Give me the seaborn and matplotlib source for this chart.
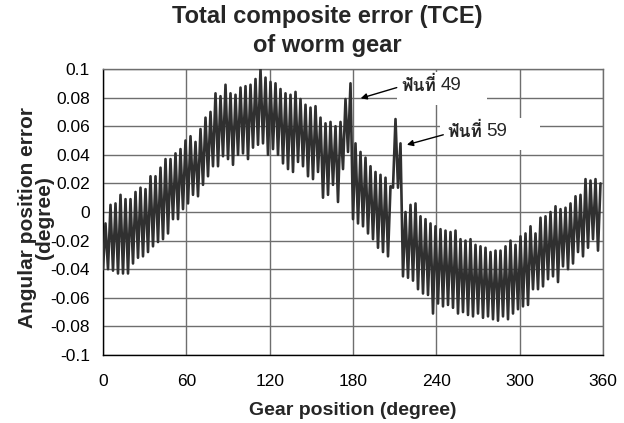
import matplotlib
matplotlib.use("Agg")
import matplotlib.pyplot as plt
from matplotlib import font_manager
from matplotlib.ft2font import FT2Font
from matplotlib.patches import Rectangle
import seaborn as sns
import pandas as pd
import numpy as np

# ---------------- data ----------------
tooth_pitch = 3.6   # degrees per tooth (100 teeth)
tooth_high = [
    -0.008, 0.005, 0.006, 0.012, 0.009, 0.009, 0.014, 0.017, 0.016, 0.025,
    0.025, 0.031, 0.037, 0.037, 0.041, 0.044, 0.050, 0.053, 0.049, 0.058,
    0.066, 0.070, 0.083, 0.081, 0.089, 0.083, 0.082, 0.087, 0.088, 0.089,
    0.093, 0.100, 0.094, 0.091, 0.090, 0.086, 0.083, 0.082, 0.084, 0.079,
    0.075, 0.073, 0.074, 0.066, 0.062, 0.063, 0.060, 0.063, 0.079, 0.090,
    0.048, 0.042, 0.038, 0.032, 0.028, 0.026, 0.024, 0.018, 0.065, 0.048,
    0.000, 0.005, 0.006, -0.003, -0.005, -0.008, -0.010, -0.012, -0.013, -0.014,
    -0.013, -0.019, -0.020, -0.019, -0.023, -0.024, -0.025, -0.028, -0.027, -0.027,
    -0.024, -0.020, -0.023, -0.017, -0.015, -0.010, -0.015, -0.004, -0.003, 0.000,
    0.004, 0.002, 0.003, 0.006, 0.011, 0.012, 0.023, 0.022, 0.023, 0.020,
]
tooth_low = [
    -0.040, -0.040, -0.041, -0.043, -0.043, -0.043, -0.036, -0.032, -0.031, -0.028,
    -0.024, -0.021, -0.019, -0.015, -0.005, -0.005, 0.002, 0.006, 0.012, 0.011,
    0.019, 0.025, 0.032, 0.032, 0.039, 0.037, 0.033, 0.040, 0.041, 0.037,
    0.045, 0.047, 0.048, 0.040, 0.044, 0.040, 0.034, 0.030, 0.028, 0.035,
    0.032, 0.025, 0.023, 0.028, 0.010, 0.012, 0.019, 0.007, 0.030, 0.042,
    -0.005, -0.008, -0.010, -0.015, -0.019, -0.025, -0.028, -0.031, 0.017, 0.017,
    -0.045, -0.046, -0.048, -0.054, -0.057, -0.058, -0.071, -0.064, -0.066, -0.065,
    -0.067, -0.071, -0.070, -0.072, -0.073, -0.071, -0.074, -0.073, -0.075, -0.076,
    -0.073, -0.075, -0.071, -0.068, -0.066, -0.065, -0.054, -0.054, -0.052, -0.047,
    -0.045, -0.049, -0.038, -0.040, -0.036, -0.028, -0.031, -0.025, -0.019, -0.027,
]
x_ticks = [0, 60, 120, 180, 240, 300, 360]
x_tick_labels = ["0", "60", "120", "180", "240", "300", "360"]
y_ticks = [-0.1, -0.08, -0.06, -0.04, -0.02, 0, 0.02, 0.04, 0.06, 0.08, 0.1]
y_tick_labels = ["-0.1", "-0.08", "-0.06", "-0.04", "-0.02", "0",
                 "0.02", "0.04", "0.06", "0.08", "0.1"]
title_text = "Total composite error (TCE)\nof worm gear"
x_label = "Gear position (degree)"
y_label = "Angular position error\n(degree)"
notes = [("ฟันที่", "49"), ("ฟันที่", "59")]

# ---------------- build long table ----------------
xs, ys = [], []
for k, (hi, lo) in enumerate(zip(tooth_high, tooth_low)):
    xs += [k * tooth_pitch, k * tooth_pitch + tooth_pitch / 2]
    ys += [lo, hi]
df = pd.DataFrame({"pos": xs, "err": ys})

# ---------------- fonts ----------------
sns.set_style("white")
plt.rcParams["font.family"] = ["Liberation Sans", "DejaVu Sans"]

thai_font = None
thai_bold = None
for fe in font_manager.fontManager.ttflist:
    try:
        cm = FT2Font(fe.fname).get_charmap()
    except Exception:
        continue
    if 0x0E1F in cm:
        if fe.weight in ("bold", 700) or (isinstance(fe.weight, int) and fe.weight >= 600):
            thai_bold = thai_bold or fe.name
        else:
            thai_font = thai_font or fe.name
thai_family = thai_bold or thai_font or "DejaVu Sans"

# ---------------- figure ----------------
fig = plt.figure(figsize=(6.24, 4.23), dpi=100)
ax = fig.add_axes([103 / 624, 1 - 355 / 423, 500 / 624, 286 / 423])

sns.lineplot(data=df, x="pos", y="err", sort=False, estimator=None,
             color="#303030", linewidth=1.9, ax=ax, zorder=3)

ax.set_xlim(0, 360)
ax.set_ylim(-0.1, 0.1)
ax.set_xticks(x_ticks)
ax.set_xticklabels(x_tick_labels)
ax.set_yticks(y_ticks)
ax.set_yticklabels(y_tick_labels)
ax.grid(True, color="#6e6e6e", linewidth=1.0, zorder=0)
ax.set_axisbelow(True)
for s in ["top", "right"]:
    ax.spines[s].set_color("#6e6e6e")
    ax.spines[s].set_linewidth(1.0)
for s in ["left", "bottom"]:
    ax.spines[s].set_color("black")
    ax.spines[s].set_linewidth(1.0)
ax.tick_params(axis="both", direction="inout", length=9, width=1,
               color="black", labelsize=12.5, labelcolor="black")
ax.tick_params(axis="x", pad=9)
ax.tick_params(axis="y", pad=5)
ax.set_xlabel("")
ax.set_ylabel("")

# white text boxes covering the grid
ax.add_patch(Rectangle((211.6, 0.075), 64.7, 0.023, facecolor="white",
                       edgecolor="none", zorder=2))
ax.add_patch(Rectangle((242.5, 0.0436), 71.9, 0.0224, facecolor="white",
                       edgecolor="none", zorder=2))

# annotations
arrow_kw = dict(arrowstyle="-|>", color="black", lw=1.0,
                mutation_scale=9, shrinkA=0, shrinkB=0)
ax.annotate("", xy=(185.5, 0.0795), xytext=(211.5, 0.0870),
            arrowprops=arrow_kw, zorder=4)
ax.annotate("", xy=(218.8, 0.0470), xytext=(245.0, 0.0540),
            arrowprops=arrow_kw, zorder=4)

for (word, num), (tx, ty) in zip(notes, [(214.8, 0.0890), (247.8, 0.0565)]):
    t1 = ax.text(tx, ty, word, family=[thai_family, "DejaVu Sans"],
                 fontsize=12.5, fontweight="bold", va="center", ha="left", zorder=5)
    fig.canvas.draw()
    bb = t1.get_window_extent().transformed(ax.transData.inverted())
    ax.text(bb.x1 + 3.0, ty - 0.0005, num, fontsize=13.5, va="center", ha="left",
            zorder=5)

# titles / labels
fig.text(327 / 624, 1 - 31 / 423, title_text, ha="center", va="center",
         fontsize=17, fontweight="bold", linespacing=1.38)
fig.text(353 / 624, 1 - 410 / 423, x_label, ha="center", va="center",
         fontsize=14, fontweight="bold")
fig.text(36 / 624, 1 - 218 / 423, y_label, ha="center", va="center",
         rotation=90, fontsize=15, fontweight="bold", linespacing=0.85)

fig.savefig("out.png", dpi=100)
